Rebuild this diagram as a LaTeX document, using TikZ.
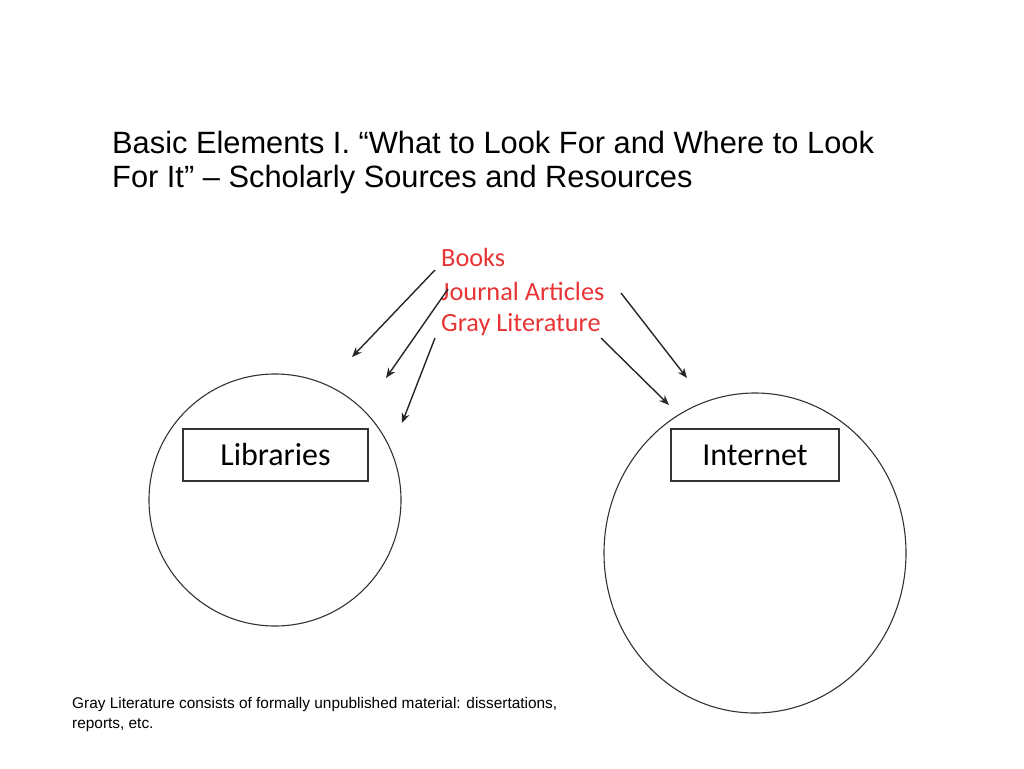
\documentclass[tikz,border=0pt]{standalone}
\usepackage{fontspec}
\setmainfont{Liberation Sans}
\newfontfamily\calfont{Carlito}
\usetikzlibrary{arrows.meta}
\definecolor{lblred}{RGB}{232,52,52}
\begin{document}
\begin{tikzpicture}[x=1pt,y=-1pt,
  arr/.style={draw=black!85,line width=1.4pt,-{Stealth[length=10pt,width=8pt]}},
  lbl/.style={anchor=west,inner sep=0,text=lblred,font=\calfont\fontsize{26.3}{28}\selectfont},
  box/.style={draw=black!80,line width=1.2pt,minimum height=52pt,font=\calfont\fontsize{32}{34}\selectfont}]
\useasboundingbox (0,0) rectangle (1024,768);
\node[anchor=base west,inner sep=0,font=\fontsize{30.8}{34}\selectfont,align=left] (title) at (112,187)
  {Basic Elements I. “What to Look For and Where to Look\\For It” – Scholarly Sources and Resources};
\node[lbl] (books) at (441,257) {Books};
\node[lbl] (journal) at (441,291) {Journal Articles};
\node[lbl] (gray) at (441,325) {Gray Literature};
\draw[line width=1.1pt,draw=black!80] (275,500) circle (126);
\draw[line width=1.1pt,draw=black!80] (755,553) ellipse (151 and 160);
\node[box,minimum width=185pt] (lib) at (275.5,455) {Libraries};
\node[box,minimum width=168pt] (int) at (755,455) {Internet};
\coordinate (a1s) at (435,270); \coordinate (a1e) at (352,357);
\coordinate (a2s) at (448,289); \coordinate (a2e) at (386,378);
\coordinate (a3s) at (435,338); \coordinate (a3e) at (402,423);
\coordinate (a4s) at (621,293); \coordinate (a4e) at (687,378);
\coordinate (a5s) at (601,338); \coordinate (a5e) at (669,405);
\draw[arr] (a1s) -- (a1e);
\draw[arr] (a2s) -- (a2e);
\draw[arr] (a3s) -- (a3e);
\draw[arr] (a4s) -- (a4e);
\draw[arr] (a5s) -- (a5e);
\node[anchor=base west,inner sep=0,font=\fontsize{15.4}{19.5}\selectfont,align=left] (note) at (72,728)
  {Gray Literature consists of formally unpublished material: dissertations,\\reports, etc.};
\end{tikzpicture}
\end{document}
